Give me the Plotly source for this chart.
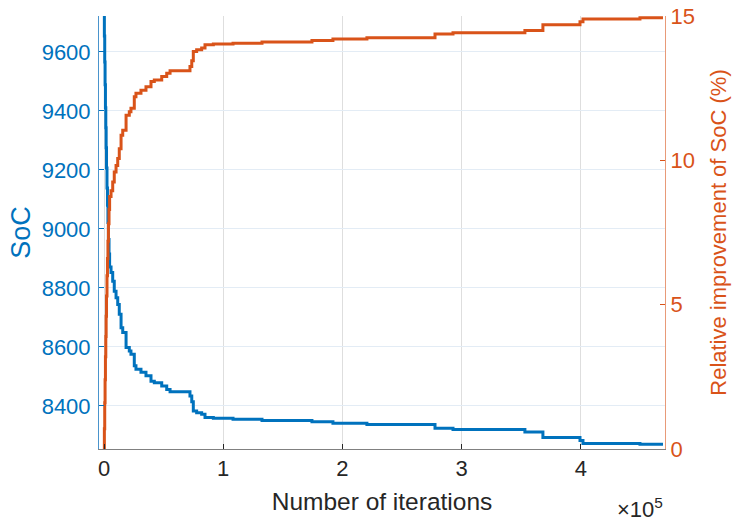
import plotly.graph_objects as go

# Iteration breakpoints (step changes)
iterations = [0, 300, 600, 900, 1200, 1500, 1800, 2100, 2500, 2900, 3300, 3700, 4200, 4700,
              5900, 7300, 8600, 10100, 11500, 12800, 14300, 15700, 18500, 21200, 22600,
              25400, 26800, 31000, 35200, 39400, 42200, 48400, 52600, 55400, 72100, 73600,
              74900, 77700, 81900, 84700, 91700, 108200, 132500, 174400, 192000, 220500,
              277600, 292700, 353000, 368100, 399200, 401700, 449500, 468800]

# SoC (left axis)
soc = [9722, 9654, 9566, 9489, 9411, 9343, 9275, 9207, 9139, 9080, 9022, 8964, 8915, 8871,
       8852, 8823, 8789, 8767, 8744, 8711, 8665, 8649, 8598, 8586, 8575,
       8536, 8524, 8514, 8502, 8484, 8479, 8468, 8456, 8448, 8434, 8414,
       8383, 8377, 8372, 8361, 8358, 8355, 8351, 8346, 8341, 8337,
       8324, 8320, 8312, 8293, 8283, 8273, 8270, 8270]

# Relative improvement of SoC in % (right axis)
improvement = [0, 0.7, 1.6, 2.4, 3.2, 3.9, 4.6, 5.3, 6.0, 6.6, 7.2, 7.8, 8.3, 8.75,
               8.95, 9.25, 9.6, 9.82, 10.06, 10.4, 10.87, 11.04, 11.56, 11.68, 11.8,
               12.2, 12.32, 12.43, 12.55, 12.73, 12.78, 12.9, 13.02, 13.1, 13.25, 13.45,
               13.77, 13.83, 13.89, 14.0, 14.03, 14.06, 14.1, 14.15, 14.2, 14.25,
               14.38, 14.42, 14.5, 14.7, 14.8, 14.9, 14.94, 14.94]

x_tickvals = [0, 100000, 200000, 300000, 400000]
x_ticktext = ["0", "1", "2", "3", "4"]
left_ticks = [8400, 8600, 8800, 9000, 9200, 9400, 9600]
right_ticks = [0, 5, 10, 15]

BLUE = "#0072BD"
ORANGE = "#D95319"
DARK = "#262626"
FONT = "Liberation Sans, Arial, sans-serif"

fig = go.Figure()
fig.add_trace(go.Scatter(x=iterations, y=soc, mode="lines", line=dict(color=BLUE, width=3, shape="hv"),
                         yaxis="y", showlegend=False))
fig.add_trace(go.Scatter(x=iterations, y=improvement, mode="lines", line=dict(color=ORANGE, width=3, shape="hv"),
                         yaxis="y2", showlegend=False))

fig.update_layout(
    width=733, height=524,
    margin=dict(l=99, r=68, t=16, b=75, autoexpand=False),
    paper_bgcolor="white", plot_bgcolor="white",
    font=dict(family=FONT, size=22, color=DARK),
    xaxis=dict(range=[-4200, 470500], tickvals=x_tickvals, ticktext=x_ticktext,
               showgrid=True, gridcolor="#dedede", gridwidth=1, zeroline=False, automargin=False,
               ticks="inside", ticklen=5, tickcolor=DARK, showline=True, linecolor="#808080",
               tickfont=dict(size=22, color=DARK),
               title=dict(text="Number of iterations", font=dict(size=24.5, color=DARK), standoff=12)),
    yaxis=dict(range=[8254, 9722], tickvals=left_ticks, showgrid=True, gridcolor="#e3ecf5",
               zeroline=False, ticks="inside", ticklen=5, tickcolor=BLUE, showline=True, automargin=False,
               linecolor="#4a94cc", tickfont=dict(size=22, color=BLUE), ticklabelstandoff=3,
               title=dict(text="SoC", font=dict(size=27, color=BLUE), standoff=3)),
    yaxis2=dict(range=[0, 15], tickvals=right_ticks, overlaying="y", side="right", automargin=False,
                showgrid=False, zeroline=False, ticks="inside", ticklen=5, tickcolor=ORANGE,
                showline=True, linecolor="#e89a78", tickfont=dict(size=22, color=ORANGE),
                title=dict(text="Relative improvement of SoC (%)", font=dict(size=22, color=ORANGE), standoff=16)),
    annotations=[dict(text="×10<sup>5</sup>", xref="paper", yref="paper", x=1.0, y=-0.137,
                      xanchor="right", yanchor="middle", showarrow=False,
                      font=dict(size=22, color=DARK, family=FONT))],
)

fig.write_html("out.html")
